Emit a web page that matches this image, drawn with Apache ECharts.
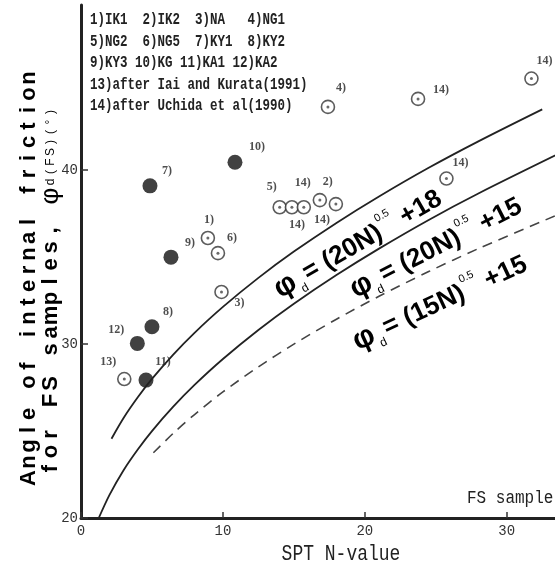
<!DOCTYPE html>
<html>
<head>
<meta charset="utf-8">
<script src="https://cdn.jsdelivr.net/npm/echarts@6/dist/echarts.min.js"></script>
<style>
  html, body { margin: 0; padding: 0; background: #fff; }
  #chart { width: 555px; height: 571px; }
</style>
</head>
<body>
<div id="chart"></div>
<script>
// values (N-value, angle in degrees)
var filledN = [4.86, 10.85, 6.34, 5.0, 3.97, 4.58]
var filledPhi = [39.1, 40.46, 35.0, 31.0, 30.04, 27.93]
var filledTags = ['7)', '10)', '9)', '8)', '12)', '11)']

var openN = [3.05, 8.94, 9.65, 9.9, 14.0, 14.86, 15.7, 16.83, 17.96, 17.4, 23.75, 31.74, 25.75]
var openPhi = [27.99, 36.1, 35.23, 33.0, 37.87, 37.87, 37.87, 38.28, 38.05, 43.64, 44.1, 45.27, 39.52]
var openTags = ['13)', '1)', '6)', '3)', '5)', '14)', '14)', '2)', '14)', '4)', '14)', '14)', '14)']

// curves
var upperN = [2.15, 3, 4, 5, 6.5, 8, 10, 12.5, 15, 18, 21, 24.5, 28, 32.5]
var upperPhi = [24.56, 25.75, 26.94, 28.0, 29.4, 30.65, 32.14, 33.81, 35.32, 36.97, 38.49, 40.14, 41.66, 43.5]
var middleN = [1.25, 2, 3, 4, 5, 6.5, 8, 10, 12.5, 15, 18, 21, 24.5, 28, 34]
var middlePhi = [20.0, 21.32, 22.75, 23.94, 25.0, 26.4, 27.65, 29.14, 30.81, 32.32, 33.97, 35.49, 37.14, 38.66, 41.08]
var dashN = [5.1, 6.5, 8, 10, 12.5, 15, 18, 21, 24.5, 28, 34]
var dashPhi = [23.75, 24.87, 25.95, 27.25, 28.69, 30.0, 31.43, 32.75, 34.17, 35.49, 37.58]

var xTicks = [0, 10, 20, 30]
var yTicks = [20, 30, 40]

var legendLines = [
  '1)IK1  2)IK2  3)NA   4)NG1',
  '5)NG2  6)NG5  7)KY1  8)KY2',
  '9)KY3 10)KG 11)KA1 12)KA2',
  '13)after Iai and Kurata(1991)',
  '14)after Uchida et al(1990)'
]

// label placement (px, from the point centre)
var filledOffsets = [[17, -15], [22, -15], [19, -14], [16, -15], [-21, -13], [17, -18]]
var openOffsets = [[-16, -17], [1, -18], [14, -15], [18, 11], [-8, -20], [5, 18], [-1, -24],
  [8, -18], [-14, 16], [13, -19], [23, -9], [13, -18], [14, -16]]

function zip(xs, ys) {
  return xs.map(function(x, i) { return [x, ys[i]] })
}

function tagged(xs, ys, tags, offsets) {
  return xs.map(function(x, i) {
    return { value: [x, ys[i]], name: tags[i], label: { offset: offsets[i] } }
  })
}

// letter-spaced text through rich tokens
function spaced(str, style) {
  return str.split('').map(function(c) { return '{' + style + '|' + c + '}' }).join('')
}

var chart = echarts.init(document.getElementById('chart'))

var pointLabel = {
  show: true,
  position: 'inside',
  formatter: '{b}',
  fontFamily: 'Liberation Serif',
  fontSize: 12,
  fontWeight: 'bold',
  color: '#222'
}

var eqRich = {
  phi: { fontFamily: 'Liberation Sans', fontSize: 30, fontWeight: 'bold', color: '#222', lineHeight: 36 },
  sub: { fontFamily: 'Liberation Sans', fontSize: 12, color: '#333', verticalAlign: 'bottom', lineHeight: 26, padding: [0, 3, 0, 2] },
  m: { fontFamily: 'Liberation Sans', fontSize: 26, fontWeight: 'bold', color: '#222', lineHeight: 36 },
  sup: { fontFamily: 'Liberation Sans', fontSize: 11, color: '#333', verticalAlign: 'top', lineHeight: 12, padding: [0, 1, 0, 1] }
}

function equation(coef, add, x, y, deg) {
  return {
    type: 'text',
    x: x,
    y: y,
    rotation: deg * Math.PI / 180,
    z: 50,
    style: {
      text: '{phi|φ}{sub|d}{m|= (' + coef + 'N)}{sup|0.5}{m| +' + add + '}',
      rich: eqRich,
      align: 'center',
      verticalAlign: 'middle'
    }
  }
}

chart.setOption({
  backgroundColor: '#fff',
  animation: false,
  grid: {
    left: 81,
    right: 0,
    top: 5,
    bottom: 53
  },
  xAxis: {
    type: 'value',
    min: 0,
    max: 33.4,
    axisLine: { lineStyle: { color: '#222', width: 3 } },
    axisTick: { inside: true, length: 6, customValues: xTicks, lineStyle: { color: '#333', width: 1.5 } },
    axisLabel: { customValues: xTicks, fontFamily: 'Liberation Mono', fontSize: 14, color: '#333', margin: 6 },
    splitLine: { show: false }
  },
  yAxis: {
    type: 'value',
    min: 20,
    max: 49.5,
    axisLine: { lineStyle: { color: '#222', width: 3 } },
    axisTick: { inside: true, length: 7, customValues: yTicks, lineStyle: { color: '#333', width: 1.5 } },
    axisLabel: { customValues: yTicks, fontFamily: 'Liberation Mono', fontSize: 14, color: '#333', margin: 3 },
    splitLine: { show: false }
  },
  graphic: [
    {
      type: 'text',
      x: 90,
      y: 9,
      scaleY: 1.35,
      style: {
        text: legendLines.join('\n'),
        fontFamily: 'Liberation Mono',
        fontSize: 12.5,
        fontWeight: 'bold',
        lineHeight: 16,
        fill: '#222',
        verticalAlign: 'top'
      }
    },
    {
      type: 'text',
      x: 29,
      y: 278,
      rotation: Math.PI / 2,
      style: {
        text: spaced('Angle of internal friction', 'c'),
        rich: { c: { fontFamily: 'Liberation Sans', fontSize: 22, fontWeight: 'bold', color: '#222', width: 16, align: 'center' } },
        align: 'center',
        verticalAlign: 'middle'
      }
    },
    {
      type: 'text',
      x: 51,
      y: 292,
      rotation: Math.PI / 2,
      style: {
        text: spaced('for FS samples, ', 'c') + '{p|φ}' + spaced('d(FS)(°)', 's'),
        rich: {
          c: { fontFamily: 'Liberation Sans', fontSize: 22, fontWeight: 'bold', color: '#222', width: 17, align: 'center', lineHeight: 26 },
          p: { fontFamily: 'Liberation Sans', fontSize: 26, color: '#222', width: 18, align: 'center', lineHeight: 26 },
          s: { fontFamily: 'Liberation Sans', fontSize: 12, color: '#333', width: 10, align: 'center', lineHeight: 26, verticalAlign: 'middle' }
        },
        align: 'center',
        verticalAlign: 'middle'
      }
    },
    {
      type: 'text',
      x: 341,
      y: 554,
      scaleY: 1.2,
      style: {
        text: 'SPT N-value',
        fontFamily: 'Liberation Mono',
        fontSize: 18,
        fill: '#222',
        align: 'center',
        verticalAlign: 'middle'
      }
    },
    {
      type: 'text',
      x: 467,
      y: 498,
      scaleY: 1.2,
      style: {
        text: 'FS sample',
        fontFamily: 'Liberation Mono',
        fontSize: 16,
        fill: '#222',
        align: 'left',
        verticalAlign: 'middle'
      }
    },
    equation(20, 18, 358, 244, 30),
    equation(20, 15, 436, 248, 27),
    equation(15, 15, 440, 303, 25)
  ],
  series: [
    {
      name: 'upper',
      type: 'line',
      smooth: 0.3,
      showSymbol: false,
      silent: true,
      lineStyle: { color: '#222', width: 1.8 },
      data: zip(upperN, upperPhi)
    },
    {
      name: 'middle',
      type: 'line',
      smooth: 0.3,
      showSymbol: false,
      silent: true,
      lineStyle: { color: '#222', width: 1.8 },
      data: zip(middleN, middlePhi)
    },
    {
      name: 'dashed',
      type: 'line',
      smooth: 0.3,
      showSymbol: false,
      silent: true,
      lineStyle: { color: '#444', width: 1.6, type: [10, 7] },
      data: zip(dashN, dashPhi)
    },
    {
      name: 'filled',
      type: 'scatter',
      symbol: 'circle',
      symbolSize: 15,
      itemStyle: { color: '#111' },
      label: pointLabel,
      data: tagged(filledN, filledPhi, filledTags, filledOffsets)
    },
    {
      name: 'open',
      type: 'scatter',
      symbol: 'circle',
      symbolSize: 13,
      itemStyle: { color: '#fff', borderColor: '#333', borderWidth: 1.6 },
      label: pointLabel,
      data: tagged(openN, openPhi, openTags, openOffsets)
    },
    {
      name: 'openDot',
      type: 'scatter',
      symbol: 'circle',
      symbolSize: 3,
      silent: true,
      itemStyle: { color: '#444' },
      data: zip(openN, openPhi)
    }
  ]
})
</script>
</body>
</html>
